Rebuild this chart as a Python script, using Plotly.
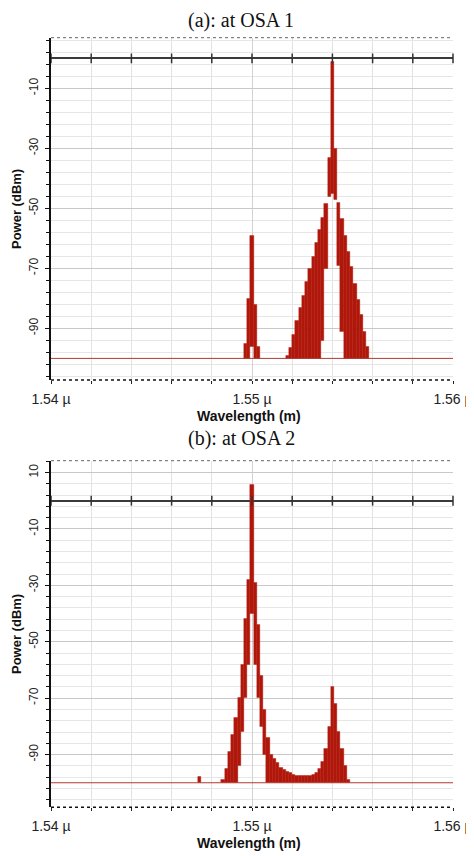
import numpy as np
import plotly.graph_objects as go

# ---------------- data ----------------
# Panel (a): OSA 1  -- comb lines (wavelength in µm, peak power dBm, lower edge dBm)
osa1_wl = [1.54968, 1.54984, 1.55000, 1.55016, 1.55032,
           1.55176, 1.55192, 1.55208, 1.55224, 1.55240, 1.55256, 1.55272, 1.55288,
           1.55304, 1.55320, 1.55336, 1.55352, 1.55368, 1.55384, 1.55400, 1.55416,
           1.55432, 1.55448, 1.55464, 1.55480, 1.55496, 1.55512, 1.55528, 1.55544,
           1.55560, 1.55576]
osa1_top = [-95, -80, -59, -82, -96,
            -99, -96.5, -92, -87.5, -83, -79, -74.5, -70,
            -66, -61.5, -57, -53, -48.5, -33, -1, -30,
            -48, -53.5, -59, -64.5, -69.5, -75, -80.5, -85.5,
            -91, -96]
osa1_low = [-100, -100, -96, -100, -100,
            -100, -100, -100, -100, -100, -100, -100, -100,
            -100, -100, -100, -94, -70, -46, -45, -47,
            -69, -91, -100, -100, -100, -100, -100, -100,
            -100, -100]

# Panel (b): OSA 2
osa2_wl = [1.54740,
           1.54856, 1.54872, 1.54888, 1.54904, 1.54920, 1.54936, 1.54952, 1.54968,
           1.54984, 1.55000, 1.55016, 1.55032, 1.55048, 1.55064, 1.55080, 1.55096,
           1.55112, 1.55128, 1.55144, 1.55160, 1.55176, 1.55192, 1.55208, 1.55224,
           1.55240, 1.55256, 1.55272, 1.55288, 1.55304, 1.55320, 1.55336, 1.55352,
           1.55368, 1.55384, 1.55400, 1.55416, 1.55432, 1.55448, 1.55464, 1.55480]
osa2_top = [-98,
            -99, -95, -89, -83, -77, -70, -58, -42,
            -28, 5.7, -29, -44, -62, -74, -84, -90,
            -91.5, -93, -94.5, -95.5, -96, -96.5, -97, -97.5,
            -97.5, -97.5, -97.5, -97.5, -97, -96.5, -95, -92.5,
            -88, -80, -66, -72, -82, -88, -94, -99]
osa2_low = [-100,
            -100, -100, -100, -100, -100, -94, -82, -70,
            -58, -40, -58, -70, -80, -90, -100, -100,
            -100, -100, -100, -100, -100, -100, -100, -100,
            -100, -100, -100, -100, -100, -100, -100, -100,
            -100, -100, -100, -100, -100, -100, -100, -100]

noise_floor = -100
x_range = [1.54, 1.56]
x_tickvals = [1.54, 1.55, 1.56]
x_ticktext = ["1.54 µ", "1.55 µ", "1.56 µ"]
y1_tickvals = [-10, -30, -50, -70, -90]
y2_tickvals = [10, -10, -30, -50, -70, -90]
y1_range = [-107.2, 6.9]
y2_range = [-108.7, 14.2]
titles = ["(a): at OSA 1", "(b): at OSA 2"]
x_title = "Wavelength (m)"
y_title = "Power (dBm)"

# ---------------- style ----------------
RED = "#b0170b"
OFF = 8                      # page body margin of the browser
W, H = 474 - OFF, 856 - OFF

def px_x(v):
    return (v - OFF) / W

def px_y(v):
    return 1 - (v - OFF) / H

XDOM = [px_x(51), px_x(453)]
YDOM1 = [px_y(380), px_y(37.7)]
YDOM2 = [px_y(807.3), px_y(460.7)]
SANS = "Liberation Sans, Arial, sans-serif"
SERIF = "Liberation Serif, Times New Roman, serif"
BAR_W = 0.00016

fig = go.Figure()

def add_panel(xa, ya, wl, top, low):
    fig.add_trace(go.Scatter(x=x_range, y=[noise_floor, noise_floor], mode="lines",
                             line=dict(color="#b03a30", width=1), xaxis=xa, yaxis=ya,
                             hoverinfo="skip"))
    fig.add_trace(go.Bar(x=wl, y=[t - l for t, l in zip(top, low)], base=low,
                         width=BAR_W, marker=dict(color=RED, line=dict(width=0.4, color=RED)),
                         xaxis=xa, yaxis=ya, hoverinfo="skip"))
    ticks_x = np.linspace(x_range[0], x_range[1], 11)
    fig.add_trace(go.Scatter(x=ticks_x, y=[0] * len(ticks_x), mode="markers",
                             marker=dict(symbol="line-ns", size=7,
                                         line=dict(color="#333", width=1.5)),
                             xaxis=xa, yaxis=ya, hoverinfo="skip", cliponaxis=False))

add_panel("x", "y", osa1_wl, osa1_top, osa1_low)
add_panel("x2", "y2", osa2_wl, osa2_top, osa2_low)

def xcfg(anchor):
    return dict(domain=XDOM, range=x_range, anchor=anchor, tickmode="array",
                automargin=False,
                tickvals=x_tickvals, ticktext=x_ticktext, ticks="outside", ticklen=3,
                tickcolor="#222", tickwidth=1.2, showgrid=True, gridcolor="#d2d2d2",
                zeroline=False, showline=False, ticklabelstandoff=3,
                tickfont=dict(family=SANS, size=14, color="#222"),
                minor=dict(tickmode="linear", tick0=1.54, dtick=0.002, showgrid=True,
                           gridcolor="#e3e3e3", ticks="outside", ticklen=3,
                           tickcolor="#222"))

def ycfg(anchor, rng, tv, dom):
    return dict(domain=dom, range=rng, anchor=anchor, tickmode="array", tickvals=tv,
                automargin=False,
                ticktext=[str(v) for v in tv], tickangle=-90, ticks="outside",
                ticklen=4, tickcolor="#111", tickwidth=1.2, showline=True,
                linecolor="#111", linewidth=1.5, zeroline=True, zerolinecolor="#3a3a3a",
                zerolinewidth=1.5, showgrid=True, gridcolor="#c9c9c9",
                ticklabelstandoff=2,
                tickfont=dict(family=SANS, size=12, color="#222"),
                minor=dict(tickmode="linear", tick0=-10, dtick=4, showgrid=True,
                           gridcolor="#e6e6e6", ticks="outside", ticklen=3,
                           tickcolor="#111"))

shapes = []
for xr, yr in [("x domain", "y domain"), ("x2 domain", "y2 domain")]:
    shapes.append(dict(type="line", xref=xr, yref=yr, x0=0, x1=1, y0=0, y1=0,
                       line=dict(color="#111", width=1.5, dash="dot")))
    shapes.append(dict(type="line", xref=xr, yref=yr, x0=0, x1=1, y0=1, y1=1,
                       line=dict(color="#666", width=1, dash="dot")))

def ann(text, x, y, font, angle=0, yanchor="middle"):
    return dict(text=text, x=px_x(x), y=px_y(y), xref="paper", yref="paper",
                xanchor="center", yanchor=yanchor, textangle=angle, borderpad=0,
                showarrow=False, font=font)

serif_font = dict(family=SERIF, size=20, color="#111")
xt_font = dict(family=SANS, size=14, color="#111")
yt_font = dict(family=SANS, size=13, color="#111")
annotations = [
    ann(titles[0], 241, OFF, serif_font, yanchor="top"),
    ann(titles[1], 241, 438, serif_font),
    ann("<b>%s</b>" % x_title, 249, 416, xt_font),
    ann("<b>%s</b>" % x_title, 249, 843, xt_font),
    ann("<b>%s</b>" % y_title, 16, 209, yt_font, -90),
    ann("<b>%s</b>" % y_title, 16, 634, yt_font, -90),
]

fig.update_layout(width=W, height=H, margin=dict(l=0, r=0, t=0, b=0),
                  paper_bgcolor="white", plot_bgcolor="white", showlegend=False,
                  bargap=0, hovermode=False,
                  xaxis=xcfg("y"), xaxis2=xcfg("y2"),
                  yaxis=ycfg("x", y1_range, y1_tickvals, YDOM1),
                  yaxis2=ycfg("x2", y2_range, y2_tickvals, YDOM2),
                  shapes=shapes, annotations=annotations)

fig.write_html("out.html")
